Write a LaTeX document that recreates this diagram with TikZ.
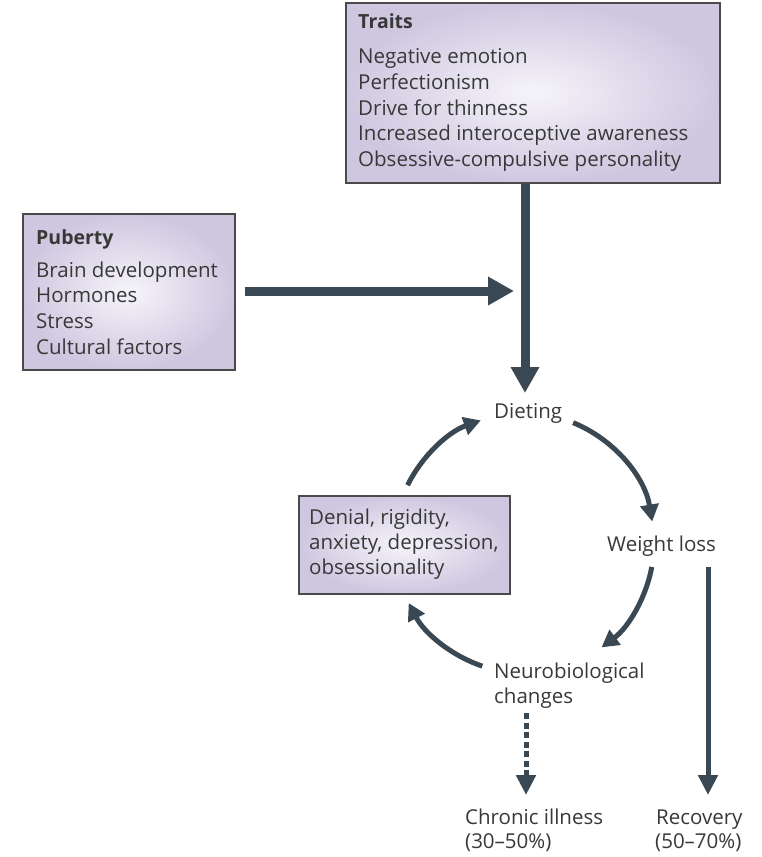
\documentclass[tikz,border=0pt]{standalone}
\usepackage{fontspec}
\setmainfont{Open Sans}
\usetikzlibrary{arrows.meta,calc}
\definecolor{arrowc}{HTML}{394852}
\definecolor{boxout}{HTML}{CFC7E0}
\definecolor{boxin}{HTML}{F6F4FA}
\definecolor{boxline}{HTML}{4A4A4A}
\definecolor{txtc}{HTML}{383838}
\tikzset{
  panel/.style={draw=boxline, line width=1.5pt, inner color=boxin, outer color=boxout, anchor=north west, inner sep=0pt},
  txt/.style={anchor=base west, inner sep=0pt, text=txtc, font=\fontsize{20.5}{24}\selectfont},
  head/.style={txt, font=\fontsize{19.5}{24}\selectfont\bfseries},
  bigarrow/.style={draw=arrowc, line width=9pt, -{Triangle[width=27pt,length=26pt]}},
  cyc/.style={draw=arrowc, line width=5pt, -{Triangle[width=18pt,length=17pt]}},
  outarrow/.style={draw=arrowc, line width=5pt, -{Triangle[width=19pt,length=20pt]}},
  dasharrow/.style={outarrow, dash pattern=on 6pt off 3.5pt}
}
\begin{document}
\begin{tikzpicture}[x=1pt,y=1pt]
\useasboundingbox (0,0) rectangle (761,-857);
% Traits
\node[panel, minimum width=374pt, minimum height=180pt] (traitsbox) at (345,-2) {};
\node[head] (traitsh) at (358,-28) {Traits};
\node[txt] (t1) at (358,-63) {Negative emotion};
\node[txt] (t2) at (358,-89) {Perfectionism};
\node[txt] (t3) at (358,-115) {Drive for thinness};
\node[txt] (t4) at (358,-140) {Increased interoceptive awareness};
\node[txt] (t5) at (358,-166) {Obsessive-compulsive personality};
% Puberty
\node[panel, minimum width=212pt, minimum height=156pt] (pubbox) at (22,-213) {};
\node[head] (pubh) at (36,-244) {Puberty};
\node[txt] (p1) at (36,-277) {Brain development};
\node[txt] (p2) at (36,-302) {Hormones};
\node[txt] (p3) at (36,-328) {Stress};
\node[txt] (p4) at (36,-354) {Cultural factors};
% Denial box
\node[panel, minimum width=211pt, minimum height=98pt] (denbox) at (298,-495) {};
\node[txt] (d1) at (309,-524) {Denial, rigidity,};
\node[txt] (d2) at (309,-549) {anxiety, depression,};
\node[txt] (d3) at (309,-574) {obsessionality};
% cycle labels
\node[txt] (dieting) at (494,-418) {Dieting};
\node[txt] (weight) at (607,-551) {Weight loss};
\node[txt] (neuro) at (494,-678) {Neurobiological};
\node[txt] (neuro2) at (494,-703) {changes};
\node[txt] (chronic) at (465,-824) {Chronic illness};
\node[txt] (chronic2) at (465,-848) {(30–50\%)};
\node[txt] (recov) at (656,-824) {Recovery};
\node[txt] (recov2) at (655,-848) {(50–70\%)};
% big arrows
\coordinate (vtip) at (525,-393);
\coordinate (hjoin) at (514,-291);
\draw[bigarrow] (traitsbox.south -| vtip) -- (vtip);
\draw[bigarrow, shorten <=9pt] (pubbox.east |- hjoin) -- (hjoin);
% cycle arcs
\coordinate (cc) at (524,-543);
\draw[cyc] ([shift={(153.6:130pt)}]cc) arc[start angle=153.6, end angle=109.4, radius=130pt];
\draw[cyc] ([shift={(67.8:130pt)}]cc) arc[start angle=67.8, end angle=9.5, radius=130pt];
\draw[cyc] ([shift={(-10.6:130pt)}]cc) arc[start angle=-10.6, end angle=-53.4, radius=130pt];
\draw[cyc] ([shift={(-108.7:130pt)}]cc) arc[start angle=-108.7, end angle=-152.5, radius=130pt];
% outcomes
\coordinate (ctop) at (526,-713);
\coordinate (ctip) at (526,-795);
\coordinate (rtop) at (708,-567);
\coordinate (rtip) at (708,-795);
\draw[dasharrow] (ctop) -- (ctip);
\draw[outarrow] (rtop) -- (rtip);
\end{tikzpicture}
\end{document}
